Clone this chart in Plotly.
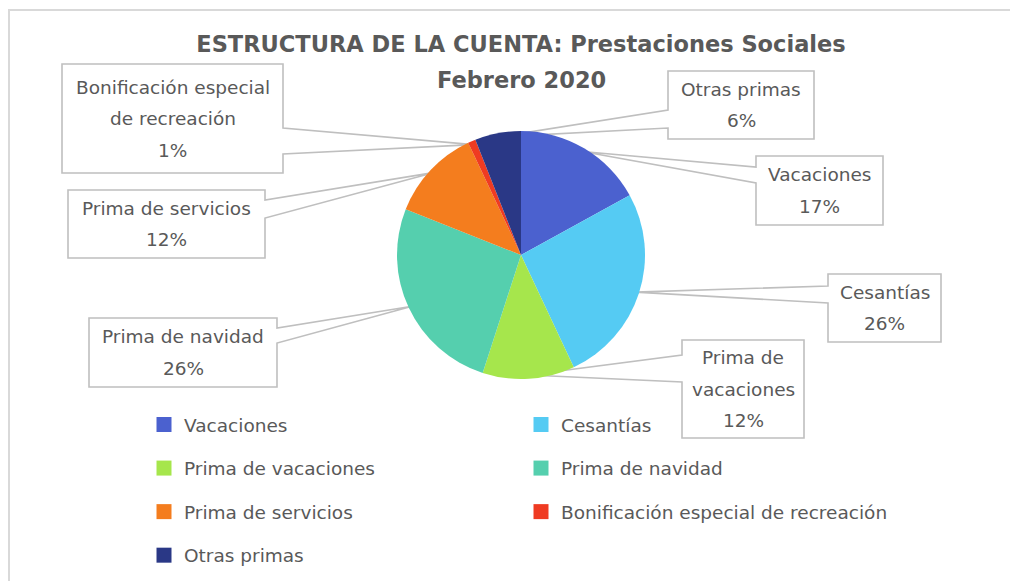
import math
import textwrap
import plotly.graph_objects as go

# ---------------- data ----------------
categories = [
    "Vacaciones",
    "Cesantías",
    "Prima de vacaciones",
    "Prima de navidad",
    "Prima de servicios",
    "Bonificación especial de recreación",
    "Otras primas",
]
values = [17, 26, 12, 26, 12, 1, 6]
colors = ["#4B61CF", "#55CBF3", "#A6E64C", "#55CFAE", "#F47D1E", "#EF3B22", "#2A3886"]
title_line1 = "ESTRUCTURA DE LA CUENTA: Prestaciones Sociales"
title_line2 = "Febrero 2020"

# ---------------- layout helpers ----------------
W, H = 1018, 581
OFF = 8  # page body margin
FONT = "DejaVu Sans"
TXT = "#595959"
FS = 18.5


def fx(x):
    return (x - OFF) / W


def fy(y):
    return 1 - (y - OFF) / H


CX, CY, R = 521, 255, 124

fig = go.Figure()
fig.add_trace(go.Pie(
    labels=categories, values=values, sort=False, direction="clockwise", rotation=0,
    marker=dict(colors=colors, line=dict(width=0)),
    textinfo="none", showlegend=False, hoverinfo="label+percent",
    domain=dict(x=[fx(CX - R), fx(CX + R)], y=[fy(CY + R), fy(CY - R)]),
))

# legend entries (two columns, like the original)
for i, (c, col) in enumerate(zip(categories, colors)):
    fig.add_trace(go.Scatter(
        x=[None], y=[None], mode="markers",
        marker=dict(symbol="square", size=15, color=col),
        name=c, legend="legend" if i % 2 == 0 else "legend2",
        legendgroup=c, showlegend=True, hoverinfo="skip",
    ))

# callout boxes: x0, y0, x1, y1, pointer side, pointer y a, pointer y b, wrap width
callouts = [
    (756, 156, 883, 225, "left", 167, 183, 30),
    (828, 274, 941, 342, "left", 286, 303, 30),
    (682, 340, 804, 438, "left", 355, 382, 10),
    (89, 318, 277, 387, "right", 328, 343, 30),
    (68, 190, 265, 258, "right", 200, 218, 30),
    (62, 64, 283, 173, "right", 128, 154, 21),
    (668, 71, 814, 139, "left", 110, 128, 30),
]

shapes = []
annotations = []
total = sum(values)
cum = 0
LINE_SP = 31.5
for (cat, v, box) in zip(categories, values, callouts):
    x0, y0, x1, y1, side, pa, pb, wrap = box
    th = 2 * math.pi * (cum + v / 2) / total
    cum += v
    tx = CX + R * 0.97 * math.sin(th)
    ty = CY - R * 0.97 * math.cos(th)
    if side == "left":
        pts = [(x0, y0), (x1, y0), (x1, y1), (x0, y1), (x0, pb), (tx, ty), (x0, pa)]
    else:
        pts = [(x0, y0), (x1, y0), (x1, pa), (tx, ty), (x1, pb), (x1, y1), (x0, y1)]
    path = "M " + " L ".join(f"{fx(a):.5f},{fy(b):.5f}" for a, b in pts) + " Z"
    shapes.append(dict(type="path", xref="paper", yref="paper", path=path,
                       fillcolor="white", line=dict(color="#BFBFBF", width=1.6),
                       layer="below"))
    lines = textwrap.wrap(cat, width=wrap) + [f"{round(100 * v / total)}%"]
    cy = (y0 + y1) / 2
    start = cy - LINE_SP * (len(lines) - 1) / 2
    for k, t in enumerate(lines):
        annotations.append(dict(
            x=fx((x0 + x1) / 2), y=fy(start + k * LINE_SP), xref="paper", yref="paper",
            text=t, showarrow=False, xanchor="center", yanchor="middle",
            font=dict(family=FONT, size=FS, color=TXT),
        ))

# chart frame (left + top edges visible)
shapes.insert(0, dict(type="rect", xref="paper", yref="paper",
                      x0=fx(9), x1=fx(1060), y0=fy(620), y1=fy(10),
                      line=dict(color="#D9D9D9", width=2), fillcolor="white", layer="below"))

annotations.append(dict(
    x=fx(521), y=fy(80), xref="paper", yref="paper", text=f"<b>{title_line2}</b>",
    showarrow=False, xanchor="center", yanchor="middle",
    font=dict(family=FONT, size=22.5, color=TXT),
))

legend_common = dict(
    xanchor="left", yanchor="top", tracegroupgap=16.5, traceorder="grouped",
    font=dict(family=FONT, size=FS, color=TXT), bgcolor="rgba(0,0,0,0)",
)

fig.update_layout(
    width=W, height=H, autosize=False,
    margin=dict(l=0, r=0, t=0, b=0),
    paper_bgcolor="white", plot_bgcolor="rgba(0,0,0,0)",
    font=dict(family=FONT, color=TXT),
    title=dict(text=f"<b>{title_line1}</b>", x=fx(521), xanchor="center",
               y=fy(44), yanchor="middle", font=dict(family=FONT, size=22.5, color=TXT)),
    xaxis=dict(visible=False), yaxis=dict(visible=False),
    legend=dict(x=fx(144), y=fy(406), **legend_common),
    legend2=dict(x=fx(521), y=fy(406), **legend_common),
    shapes=shapes, annotations=annotations,
)

fig.write_html("out.html")
